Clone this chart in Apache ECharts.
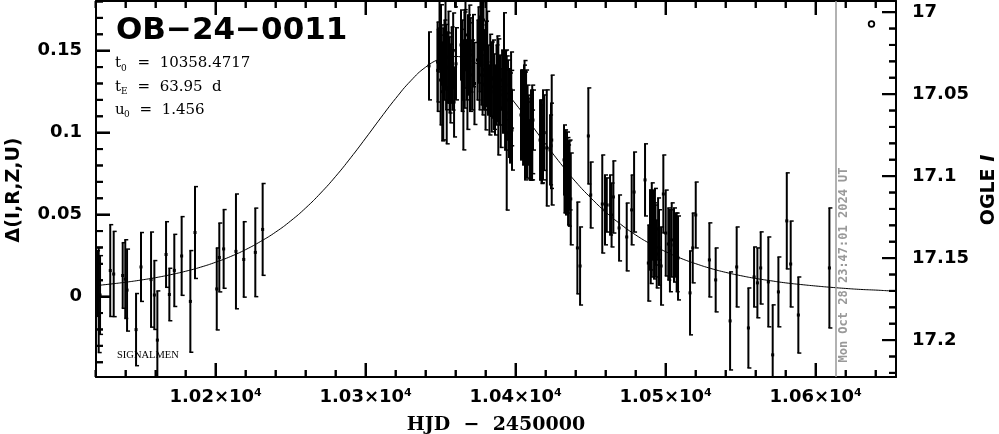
<!DOCTYPE html>
<html><head><meta charset="utf-8">
<script src="https://cdn.jsdelivr.net/npm/echarts@6/dist/echarts.min.js"></script>
<style>html,body{margin:0;padding:0;background:#fff}#c{width:999px;height:434px}</style>
</head><body><div id="c"></div>
<script>
// ---- observations (HJD-2450000, delta mag, error) ----
const obsHJD = [
10120.9,10122.0,10122.9,10129.7,10132.0,10138.0,10139.7,10140.9,10146.9,10150.2,
10156.9,10159.1,10161.1,10166.9,10169.1,10172.4,10177.3,10183.1,10186.2,10200.7,
10202.4,10205.3,10213.5,10218.7,10226.4,10231.3,
10342.2,10347.9,10348.5,10349.2,10349.9,10350.5,10351.7,10352.5,10353.2,10354.0,
10354.9,10355.9,10357.3,10357.9,10358.9,10359.5,
10363.5,10364.4,10365.1,10365.9,10366.5,10367.3,10368.2,10369.1,10369.9,10370.9,
10374.5,10375.2,10375.9,10376.5,10377.2,10377.9,10378.5,10379.2,10379.9,10380.5,
10381.5,10382.5,10384.0,10384.9,10386.2,10387.2,10388.4,10389.5,
10390.9,10391.5,10392.2,10392.9,10393.5,10394.0,10394.9,10396.2,10396.9,10397.5,
10403.5,10404.2,10404.9,10405.5,10406.2,10406.9,10407.5,10408.5,10409.2,10410.2,10410.9,10411.5,
10416.2,10416.9,10417.5,10418.2,10420.7,10422.9,10424.0,
10432.2,10432.9,10433.5,10434.2,10434.9,10435.9,10436.7,
10441.1,10442.9,10448.4,10450.0,
10457.7,10459.5,10460.7,10462.9,10463.9,10465.1,10468.9,10474.0,10477.3,10478.9,
10486.2,10488.4,10489.5,10490.7,10491.5,10492.2,10493.2,10494.0,10494.9,10496.9,
10498.4,10500.0,10501.7,10504.0,10505.5,10506.5,10508.2,
10516.2,10518.0,10520.0,10529.1,10533.3,10542.9,10547.3,10555.1,10558.9,10561.1,
10563.3,10568.4,10571.3,10575.1,10580.7,10583.3,10588.4,10609.1,
10348.0,10350.2,10351.0,10353.6,10355.2,10356.5,10358.3,10360.2,
10364.0,10366.0,10367.8,10369.5,10371.5,10372.5,
10376.0,10377.5,10378.9,10380.2,10381.0,10383.0,10385.5,10387.8,10390.0,10392.6,10395.5,10397.0,
10404.5,10405.9,10407.9,10409.7,10411.0,
10417.2,10419.0,10423.5,
10432.5,10434.5,10435.4,
10490.0,10492.8,10495.5,10502.8,10507.3
];
const obsDelta = [
0.0080,-0.0021,0.0010,0.0159,0.0138,0.0129,0.0107,0.0040,-0.0201,0.0181,
0.0104,0.0010,-0.0265,0.0257,0.0013,0.0160,0.0248,-0.0029,0.0391,0.0047,
0.0239,0.0291,0.0276,0.0227,0.0270,0.0410,
0.1407,0.1431,0.1504,0.1596,0.1321,0.1474,0.1297,0.1443,0.1535,0.1273,
0.1395,0.1352,0.1413,0.1321,0.1187,0.1980,
0.1535,0.1443,0.1230,0.1504,0.1596,0.1383,0.1474,0.1565,0.1474,0.1352,
0.1443,0.1535,0.1352,0.1626,0.1413,0.1291,0.1687,0.1383,0.1230,0.1626,
0.1321,0.1199,0.1279,0.1327,0.1199,0.1291,0.1218,0.1260,
0.1321,0.1230,0.1383,0.1138,0.1291,0.0998,0.1199,0.1090,0.1260,0.1016,
0.1108,0.1199,0.1047,0.1138,0.1041,0.1169,0.0955,0.1016,0.0895,0.0986,0.0925,0.1077,
0.0955,0.1047,0.0895,0.0986,0.0907,0.0895,0.0955,
0.0834,0.0773,0.0712,0.0803,0.0681,0.0742,0.0596,
0.0297,0.0187,0.0980,0.0620,
0.0565,0.0529,0.0559,0.0559,0.0498,0.0608,0.0419,0.0364,0.0529,0.0638,
0.0712,0.0205,0.0407,0.0407,0.0437,0.0340,0.0376,0.0260,0.0413,0.0187,
0.0626,0.0388,0.0321,0.0346,0.0315,0.0315,0.0236,
0.0023,0.0297,0.0498,0.0224,0.0102,-0.0148,0.0181,-0.0191,0.0120,0.0084,
0.0175,0.0090,-0.0355,0.0029,0.0462,0.0199,-0.0112,0.0175,
0.1380,0.1550,0.1250,0.1400,0.1460,0.1300,0.1500,0.1420,
0.1380,0.1450,0.1280,0.1400,0.1500,0.1300,
0.1480,0.1550,0.1350,0.1420,0.1500,0.1350,0.1250,0.1330,0.1150,0.1250,0.1120,0.1150,
0.1080,0.1180,0.1060,0.0960,0.1020,
0.0930,0.1000,0.0920,
0.0760,0.0740,0.0690,
0.0330,0.0390,0.0300,0.0280,0.0270
];
const obsErr = [
0.020,0.032,0.024,0.028,0.026,0.020,0.024,0.025,0.022,0.021,
0.029,0.021,0.030,0.020,0.016,0.022,0.024,0.031,0.028,0.025,
0.021,0.024,0.035,0.023,0.027,0.028,
0.0207,0.0244,0.0134,0.0213,0.0274,0.0183,0.0341,0.0244,0.0274,0.0341,
0.0213,0.0232,0.0232,0.0183,0.0213,0.0213,
0.0213,0.0244,0.0335,0.0232,0.0213,0.0183,0.0244,0.0213,0.0226,0.0213,
0.0244,0.0232,0.0213,0.0213,0.0244,0.0183,0.0183,0.0244,0.0213,0.0195,
0.0213,0.0213,0.0274,0.0238,0.0213,0.0244,0.0354,0.0213,
0.0183,0.0232,0.0348,0.0244,0.0213,0.0470,0.0244,0.0274,0.0232,0.0244,
0.0274,0.0183,0.0244,0.0274,0.0329,0.0213,0.0232,0.0213,0.0183,0.0274,0.0213,0.0183,
0.0244,0.0152,0.0201,0.0274,0.0354,0.0213,0.0396,
0.0213,0.0244,0.0213,0.0201,0.0244,0.0213,0.0280,
0.0280,0.0238,0.0293,0.0201,
0.0299,0.0213,0.0165,0.0183,0.0195,0.0220,0.0201,0.0207,0.0213,0.0244,
0.0220,0.0232,0.0244,0.0287,0.0213,0.0232,0.0183,0.0207,0.0189,0.0238,
0.0238,0.0262,0.0220,0.0226,0.0226,0.0195,0.0256,
0.0256,0.0213,0.0201,0.0226,0.0195,0.0299,0.0244,0.0244,0.0183,0.0213,
0.0220,0.0274,0.0305,0.0213,0.0293,0.0262,0.0232,0.0366,
0.0250,0.0230,0.0300,0.0260,0.0280,0.0240,0.0230,0.0220,
0.0250,0.0300,0.0260,0.0270,0.0220,0.0250,
0.0230,0.0250,0.0210,0.0260,0.0240,0.0250,0.0230,0.0260,0.0240,0.0250,0.0270,0.0230,
0.0240,0.0260,0.0230,0.0250,0.0270,
0.0240,0.0230,0.0260,
0.0250,0.0230,0.0260,
0.0250,0.0270,0.0230,0.0250,0.0240
];
// ---- model curve ----
const modelHJD = [10120,10130,10140,10150,10160,10170,10180,10190,10200,10210,10220,10230,10240,10250,10260,10270,10280,10290,10300,10310,10320,10330,10340,10350,10358.5,10370,10380,10390,10400,10410,10420,10430,10440,10450,10460,10470,10480,10490,10500,10510,10520,10530,10540,10550,10560,10570,10580,10590,10600,10610,10620,10630,10640,10650,10660];
const modelDelta = [0.0067,0.0077,0.0088,0.0101,0.0116,0.0134,0.0155,0.0180,0.0210,0.0245,0.0287,0.0337,0.0394,0.0462,0.0541,0.0632,0.0734,0.0847,0.0967,0.1090,0.1209,0.1316,0.1400,0.1451,0.1465,0.1439,0.1378,0.1286,0.1175,0.1053,0.0930,0.0811,0.0700,0.0603,0.0516,0.0441,0.0376,0.0321,0.0274,0.0234,0.0201,0.0172,0.0148,0.0128,0.0111,0.0097,0.0084,0.0074,0.0065,0.0057,0.0050,0.0044,0.0040,0.0035,0.0031];
// ---- axes ----
const xMajor = [10200,10300,10400,10500,10600];
const xMinor = [10120,10140,10160,10180,10220,10240,10260,10280,10320,10340,10360,10380,10420,10440,10460,10480,10520,10540,10560,10580,10620,10640];
const yMajor = [0,0.05,0.1,0.15];
const yMinor = [-0.04,-0.03,-0.02,-0.01,0.01,0.02,0.03,0.04,0.06,0.07,0.08,0.09,0.11,0.12,0.13,0.14,0.16,0.17,0.18];
const magMajor = [17,17.05,17.1,17.15,17.2];
const magMinor = [17.01,17.02,17.03,17.04,17.06,17.07,17.08,17.09,17.11,17.12,17.13,17.14,17.16,17.17,17.18,17.19,17.21,17.22];
const xMin = 10120.2, xMax = 10653.5;
const yMin = -0.0490, yMax = 0.1803;
const baseMag = 17.1735;
const magMin = baseMag - yMax, magMax = baseMag - yMin;
const nowHJD = 10613.5;

const black = '#000';
const labelFont = {fontFamily:'DejaVu Sans', fontWeight:'bold', fontSize:18, color:black};
function majorTick(vals) {
  return {show:true, inside:true, length:14, customValues:vals, lineStyle:{color:black, width:2}};
}
function mkX(pos, labels) {
  return {type:'value', position:pos, min:xMin, max:xMax,
    axisLine:{show:true, onZero:false, lineStyle:{color:black, width:2}}, axisTick:majorTick(xMajor),
    axisLabel: labels ? Object.assign({show:true, customValues:xMajor, margin:11, formatter: v => (v/10000) + '×10⁴'}, labelFont) : {show:false},
    splitLine:{show:false}};
}
function mkY(pos, lo, hi, inv, labVals, margin) {
  return {type:'value', position:pos, min:lo, max:hi, inverse:inv,
    axisLine:{show:true, onZero:false, lineStyle:{color:black, width:2}}, axisTick:majorTick(labVals),
    axisLabel: Object.assign({show:true, customValues:labVals, margin:margin, formatter: v => String(v)}, labelFont),
    splitLine:{show:false}};
}
function tickLine(x1, y1, x2, y2) { return {type:'line', shape:{x1:x1, y1:y1, x2:x2, y2:y2}, style:{stroke:black, lineWidth:2}}; }
function xTicks(vals, len) {
  return {type:'custom', xAxisIndex:0, yAxisIndex:0, clip:false, zlevel:1, z:10,
    data: vals.map(v => [v, yMin]), encode:{x:0, y:1},
    renderItem:(p, api) => {
      const v = api.value(0); const b = api.coord([v, yMin]), t = api.coord([v, yMax]);
      return {type:'group', children:[tickLine(b[0], b[1], b[0], b[1]-len), tickLine(t[0], t[1], t[0], t[1]+len)]};
    }};
}
function leftTicks(vals, len) {
  return {type:'custom', xAxisIndex:0, yAxisIndex:0, clip:false, zlevel:1, z:10,
    data: vals.map(v => [xMin, v]), encode:{x:0, y:1},
    renderItem:(p, api) => { const c = api.coord([xMin, api.value(1)]); return tickLine(c[0], c[1], c[0]+len, c[1]); }};
}
function rightTicks(vals, len) {
  return {type:'custom', xAxisIndex:0, yAxisIndex:1, clip:false, zlevel:1, z:10,
    data: vals.map(v => [xMax, v]), encode:{x:0, y:1},
    renderItem:(p, api) => { const c = api.coord([xMax, api.value(1)]); return tickLine(c[0], c[1], c[0]-len, c[1]); }};
}
const obsData = obsHJD.map((t,i) => [t, obsDelta[i], obsErr[i]]);
const modelData = modelHJD.map((t,i) => [t, modelDelta[i]]);
const serif = '"DejaVu Serif"';
const texts = [
  {type:'text', x:116, y:31, style:{text:'OB−24−0011', font:'bold 31px "DejaVu Sans"', fill:black, align:'left', verticalAlign:'middle'}},
  {type:'text', x:115, y:63, style:{text:'t', font:'15px '+serif, fill:black, align:'left', verticalAlign:'middle'}},
  {type:'text', x:121, y:69, style:{text:'0', font:'9px '+serif, fill:black, align:'left', verticalAlign:'middle'}},
  {type:'text', x:128, y:63, style:{text:'  =  10358.4717', font:'15px '+serif, fill:black, align:'left', verticalAlign:'middle'}},
  {type:'text', x:115, y:87, style:{text:'t', font:'15px '+serif, fill:black, align:'left', verticalAlign:'middle'}},
  {type:'text', x:121, y:92, style:{text:'E', font:'9px '+serif, fill:black, align:'left', verticalAlign:'middle'}},
  {type:'text', x:128, y:87, style:{text:'  =  63.95  d', font:'15px '+serif, fill:black, align:'left', verticalAlign:'middle'}},
  {type:'text', x:115, y:110, style:{text:'u', font:'15px '+serif, fill:black, align:'left', verticalAlign:'middle'}},
  {type:'text', x:124, y:115, style:{text:'0', font:'9px '+serif, fill:black, align:'left', verticalAlign:'middle'}},
  {type:'text', x:130, y:110, style:{text:'  =  1.456', font:'15px '+serif, fill:black, align:'left', verticalAlign:'middle'}},
  {type:'text', x:117, y:355, style:{text:'SIGNALMEN', font:'10.5px "Liberation Serif"', fill:black, align:'left', verticalAlign:'middle'}},
  {type:'text', x:844, y:265, rotation:Math.PI/2, style:{text:'Mon Oct 28 23:47:01 2024 UT', font:'bold 12px "DejaVu Sans Mono"', fill:'#999', align:'center', verticalAlign:'middle'}},
  {type:'circle', shape:{cx:871.5, cy:24, r:2.8}, style:{fill:'none', stroke:black, lineWidth:1.8}},
  {type:'text', x:14, y:190, rotation:Math.PI/2, style:{text:'Δ(I,R,Z,U)', font:'bold 19px "DejaVu Sans"', fill:black, align:'center', verticalAlign:'middle'}},
  {type:'text', x:989, y:190, rotation:Math.PI/2, style:{text:'{a|OGLE }{b|I}', rich:{a:{font:'bold 19px "DejaVu Sans"', fill:black}, b:{font:'italic bold 19px "DejaVu Sans"', fill:black}}, align:'center', verticalAlign:'middle'}},
  {type:'text', x:496, y:425, style:{text:'HJD  −  2450000', font:'bold 19px '+serif, fill:black, align:'center', verticalAlign:'middle'}}
];
const chart = echarts.init(document.getElementById('c'), null, {renderer:'canvas', width:999, height:434});
chart.setOption({
  animation:false, backgroundColor:'#fff',
  grid:{left:96, top:1, width:800, height:376, containLabel:false},
  xAxis:[mkX('bottom', true), mkX('top', false)],
  yAxis:[mkY('left', yMin, yMax, false, yMajor, 14), mkY('right', magMin, magMax, true, magMajor, 16)],
  series:[
    {type:'custom', xAxisIndex:0, yAxisIndex:0, clip:true, data:obsData, encode:{x:0, y:1},
     renderItem:function(params, api){
       const x = api.value(0), y = api.value(1), e = api.value(2);
       const top = api.coord([x, y+e]), bot = api.coord([x, y-e]), c = api.coord([x, y]);
       return {type:'group', children:[
         {type:'line', shape:{x1:top[0], y1:top[1], x2:bot[0], y2:bot[1]}, style:{stroke:black, lineWidth:2}},
         {type:'line', shape:{x1:top[0]-1, y1:top[1], x2:top[0]+3, y2:top[1]}, style:{stroke:black, lineWidth:1.5}},
         {type:'line', shape:{x1:bot[0]-1, y1:bot[1], x2:bot[0]+3, y2:bot[1]}, style:{stroke:black, lineWidth:1.5}},
         {type:'rect', shape:{x:c[0]-1.5, y:c[1]-1.5, width:3, height:3}, style:{fill:black}}
       ]};
     }},
    {type:'line', xAxisIndex:0, yAxisIndex:0, data:modelData, smooth:true, symbol:'none',
     lineStyle:{color:black, width:1}, clip:true,
     markLine:{silent:true, symbol:['none','none'], label:{show:false},
       lineStyle:{color:'#999', width:1.5, type:'solid'}, data:[{xAxis:nowHJD}]}},
    xTicks(xMajor, 14), xTicks(xMinor, 7),
    leftTicks(yMajor, 14), leftTicks(yMinor, 7),
    rightTicks(magMajor, 14), rightTicks(magMinor, 7)
  ],
  graphic:texts
});
// frame ticks also placed through the axes' own pixel conversion
const ticks = [];
const yb = chart.convertToPixel({yAxisIndex:0}, yMin), yt = chart.convertToPixel({yAxisIndex:0}, yMax);
const xl = chart.convertToPixel({xAxisIndex:0}, xMin), xr = chart.convertToPixel({xAxisIndex:0}, xMax);
function gLine(x1, y1, x2, y2) { return {type:'line', z:100, shape:{x1:x1, y1:y1, x2:x2, y2:y2}, style:{stroke:black, lineWidth:2}}; }
[[xMajor,14],[xMinor,7]].forEach(([vals, len]) => vals.forEach(v => {
  const x = chart.convertToPixel({xAxisIndex:0}, v);
  ticks.push(gLine(x, yb, x, yb-len), gLine(x, yt, x, yt+len));
}));
[[yMajor,14],[yMinor,7]].forEach(([vals, len]) => vals.forEach(v => {
  const y = chart.convertToPixel({yAxisIndex:0}, v); ticks.push(gLine(xl, y, xl+len, y));
}));
[[magMajor,14],[magMinor,7]].forEach(([vals, len]) => vals.forEach(v => {
  const y = chart.convertToPixel({yAxisIndex:1}, v); ticks.push(gLine(xr, y, xr-len, y));
}));
chart.setOption({graphic: texts.concat(ticks)});
</script></body></html>
